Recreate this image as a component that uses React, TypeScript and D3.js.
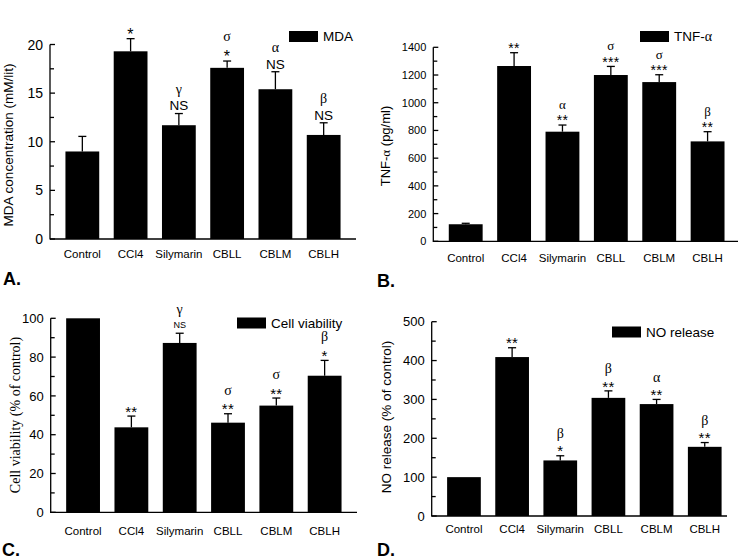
import React from "react";
import * as d3 from "d3";

const categories = ["Control", "CCl4", "Silymarin", "CBLL", "CBLM", "CBLH"];

const mdaValues = [9.0, 19.3, 11.7, 17.6, 15.4, 10.7];
const mdaErrors = [1.55, 1.3, 1.2, 0.7, 1.8, 1.25];
const mdaMarks = [[], ["*"], ["γ", "NS"], ["σ", "*"], ["α", "NS"], ["β", "NS"]];
const mdaTicks = [0, 5, 10, 15, 20];

const tnfValues = [123, 1265, 791, 1200, 1149, 721];
const tnfErrors = [7, 96, 48, 62, 53, 70];
const tnfMarks = [[], ["**"], ["α", "**"], ["σ", "***"], ["σ", "***"], ["β", "**"]];
const tnfTicks = [0, 200, 400, 600, 800, 1000, 1200, 1400];

const viabilityValues = [100, 43.8, 87.3, 46.2, 55, 70.4];
const viabilityErrors = [0, 5.8, 5, 4.6, 3.9, 7.9];
const viabilityMarks = [[], ["**"], ["γ", "NS"], ["σ", "**"], ["σ", "**"], ["β", "*"]];
const viabilityTicks = [0, 20, 40, 60, 80, 100];

const noValues = [100, 409, 143, 304, 288, 178];
const noErrors = [0, 24, 12, 18, 12, 11];
const noMarks = [[], ["**"], ["β", "*"], ["β", "**"], ["α", "**"], ["β", "**"]];
const noTicks = [0, 100, 200, 300, 400, 500];

const SANS = "'Liberation Sans', Arial, Helvetica, sans-serif";
const SERIF = "'Liberation Serif', 'Times New Roman', serif";

type Cfg = {
  values: number[];
  errors: number[];
  marks: string[][];
  ticks: number[];
  minorStep: number;
  x0: number;
  x1: number;
  axisEnd: number;
  yBottom: number;
  yTop: number;
  tickFont: number;
  xLabelY: number;
  title: React.ReactNode;
  titleFont: string;
  titleSize: number;
  titleX: number;
  titleY: number;
  legend: React.ReactNode;
  legendX: number;
  legendY: number;
  legendTextSize: number;
  letter: string;
  letterX: number;
  letterY: number;
  starSize: number;
  greekSize: number;
  nsSize: number;
  lineGap: number;
};

function centerRatio(s: string): number {
  if (s.includes("*")) return 0.58;
  if (s === "NS") return 0.36;
  return 0.22;
}

function Panel({ cfg }: { cfg: Cfg }) {
  const x = d3
    .scaleBand<string>()
    .domain(categories)
    .range([cfg.x0, cfg.x1])
    .paddingInner(0.3)
    .paddingOuter(0.32);
  const dom = [cfg.ticks[0], cfg.ticks[cfg.ticks.length - 1]];
  const y = d3.scaleLinear().domain(dom).range([cfg.yBottom, cfg.yTop]);
  const minor = d3
    .range(dom[0], dom[1] + 1e-9, cfg.minorStep)
    .filter((v) => !cfg.ticks.some((t) => Math.abs(t - v) < 1e-9));
  const bw = x.bandwidth();
  return (
    <g>
      {categories.map((c, i) => {
        const v = cfg.values[i];
        const e = cfg.errors[i];
        const bx = x(c)!;
        const cx = bx + bw / 2;
        const top = y(v);
        const et = y(v + e);
        const marks = cfg.marks[i];
        const base = e > 0 ? et : top;
        return (
          <g key={c}>
            <rect x={bx} y={top} width={bw} height={y(0) - top} fill="#000" />
            {e > 0 && (
              <g stroke="#000" strokeWidth={1.3}>
                <line x1={cx} x2={cx} y1={top} y2={et} />
                <line x1={cx - 4} x2={cx + 4} y1={et} y2={et} />
              </g>
            )}
            {marks.map((m, j) => {
              const level = marks.length - 1 - j;
              const center = base - 8 - level * cfg.lineGap;
              const isStar = m.includes("*");
              const isNS = m === "NS";
              const size = isStar ? cfg.starSize : isNS ? cfg.nsSize : cfg.greekSize;
              return (
                <text
                  key={j}
                  x={cx}
                  y={center + centerRatio(m) * size}
                  textAnchor="middle"
                  fontFamily={isStar || isNS ? SANS : SERIF}
                  fontSize={size}
                  letterSpacing={isStar ? 0.3 : 0}
                >
                  {m}
                </text>
              );
            })}
            <text
              x={cx}
              y={cfg.xLabelY}
              textAnchor="middle"
              fontFamily={SANS}
              fontSize={11.5}
            >
              {c}
            </text>
          </g>
        );
      })}
      <g stroke="#000" strokeWidth={1.3} fill="none">
        <line x1={cfg.x0} x2={cfg.x0} y1={y(dom[0]) + 0.6} y2={y(dom[1])} />
        <line x1={cfg.x0} x2={cfg.axisEnd} y1={y(0)} y2={y(0)} />
        {cfg.ticks.map((t) => (
          <line key={"M" + t} x1={cfg.x0} x2={cfg.x0 + 5} y1={y(t)} y2={y(t)} />
        ))}
        {minor.map((t) => (
          <line key={"m" + t} x1={cfg.x0} x2={cfg.x0 + 4} y1={y(t)} y2={y(t)} />
        ))}
      </g>
      {cfg.ticks.map((t) => (
        <text
          key={"l" + t}
          x={cfg.x0 - 7}
          y={y(t)}
          dy="0.36em"
          textAnchor="end"
          fontFamily={SANS}
          fontSize={cfg.tickFont}
        >
          {t}
        </text>
      ))}
      <text
        transform={`translate(${cfg.titleX},${cfg.titleY}) rotate(-90)`}
        textAnchor="middle"
        fontFamily={cfg.titleFont}
        fontSize={cfg.titleSize}
      >
        {cfg.title}
      </text>
      <rect x={cfg.legendX} y={cfg.legendY} width={29} height={11} fill="#000" />
      <text
        x={cfg.legendX + 34}
        y={cfg.legendY + 10}
        fontFamily={SANS}
        fontSize={cfg.legendTextSize}
      >
        {cfg.legend}
      </text>
      <text
        x={cfg.letterX}
        y={cfg.letterY}
        fontFamily={SANS}
        fontWeight="bold"
        fontSize={18}
      >
        {cfg.letter}
      </text>
    </g>
  );
}

const panelA: Cfg = {
  values: mdaValues,
  errors: mdaErrors,
  marks: mdaMarks,
  ticks: mdaTicks,
  minorStep: 2.5,
  x0: 50,
  x1: 356,
  axisEnd: 356,
  yBottom: 239,
  yTop: 44.5,
  tickFont: 14,
  xLabelY: 258,
  title: "MDA concentration (mM/lit)",
  titleFont: SANS,
  titleSize: 13.5,
  titleX: 13,
  titleY: 145,
  legend: "MDA",
  legendX: 289,
  legendY: 31,
  legendTextSize: 13.5,
  letter: "A.",
  letterX: 3,
  letterY: 285,
  starSize: 16,
  greekSize: 14,
  nsSize: 13.5,
  lineGap: 15,
};

const panelB: Cfg = {
  values: tnfValues,
  errors: tnfErrors,
  marks: tnfMarks,
  ticks: tnfTicks,
  minorStep: 100,
  x0: 433.3,
  x1: 740,
  axisEnd: 738,
  yBottom: 241.3,
  yTop: 47.3,
  tickFont: 11,
  xLabelY: 262,
  title: (
    <>
      TNF-<tspan fontFamily={SERIF}>α</tspan> (pg/ml)
    </>
  ),
  titleFont: SANS,
  titleSize: 13,
  titleX: 390,
  titleY: 146,
  legend: (
    <>
      TNF-<tspan fontFamily={SERIF} fontSize={14}>α</tspan>
    </>
  ),
  legendX: 640,
  legendY: 31,
  legendTextSize: 13.5,
  letter: "B.",
  letterX: 377,
  letterY: 287,
  starSize: 14,
  greekSize: 13,
  nsSize: 12,
  lineGap: 11,
};

const panelC: Cfg = {
  values: viabilityValues,
  errors: viabilityErrors,
  marks: viabilityMarks,
  ticks: viabilityTicks,
  minorStep: 10,
  x0: 50.7,
  x1: 357,
  axisEnd: 357,
  yBottom: 512.3,
  yTop: 318.3,
  tickFont: 13,
  xLabelY: 535,
  title: "Cell viability (% of control)",
  titleFont: SERIF,
  titleSize: 14,
  titleX: 20,
  titleY: 415,
  legend: "Cell viability",
  legendX: 237,
  legendY: 317.5,
  legendTextSize: 13.5,
  letter: "C.",
  letterX: 2,
  letterY: 556,
  starSize: 15,
  greekSize: 14,
  nsSize: 9,
  lineGap: 14,
};

const panelD: Cfg = {
  values: noValues,
  errors: noErrors,
  marks: noMarks,
  ticks: noTicks,
  minorStep: 50,
  x0: 431.7,
  x1: 737,
  axisEnd: 727,
  yBottom: 516,
  yTop: 321.7,
  tickFont: 13,
  xLabelY: 533,
  title: "NO release (% of control)",
  titleFont: SANS,
  titleSize: 13.5,
  titleX: 391,
  titleY: 417,
  legend: "NO release",
  legendX: 612,
  legendY: 326.5,
  legendTextSize: 13.5,
  letter: "D.",
  letterX: 377,
  letterY: 556,
  starSize: 15,
  greekSize: 14,
  nsSize: 12,
  lineGap: 13,
};

export default function App() {
  return (
    <svg
      width={740}
      height={560}
      viewBox="0 0 740 560"
      style={{ position: "absolute", left: 0, top: 0, background: "#fff" }}
    >
      <rect width={740} height={560} fill="#fff" />
      <Panel cfg={panelA} />
      <Panel cfg={panelB} />
      <Panel cfg={panelC} />
      <Panel cfg={panelD} />
    </svg>
  );
}
